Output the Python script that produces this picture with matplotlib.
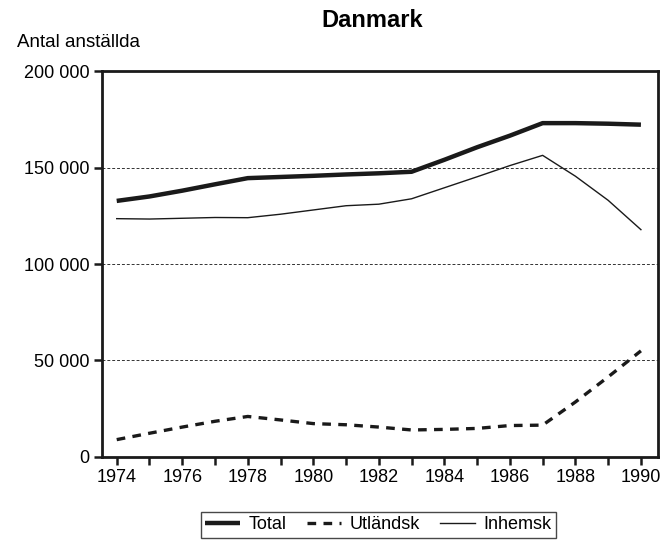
import matplotlib
matplotlib.use('Agg')
import matplotlib.pyplot as plt
from matplotlib.ticker import FuncFormatter, MultipleLocator

plt.rcParams['font.family'] = ['Liberation Sans', 'DejaVu Sans']

# Data
years = [1974, 1975, 1976, 1977, 1978, 1979, 1980, 1981, 1982, 1983,
         1984, 1985, 1986, 1987, 1988, 1989, 1990]
total = [132700, 135000, 138000, 141300, 144500, 145100, 145700, 146400, 147000, 147800,
         154000, 160500, 166500, 173000, 173000, 172700, 172200]
utlandsk = [9000, 12300, 15500, 18500, 21000, 19200, 17300, 16700, 15500, 14000,
            14300, 14800, 16300, 16500, 28500, 41500, 55000]
inhemsk = [123500, 123300, 123700, 124100, 124000, 125800, 128000, 130200, 131000, 133800,
           139500, 145200, 151000, 156300, 145500, 133000, 117800]

fig = plt.figure(figsize=(6.63, 5.43), dpi=100)
ax = fig.add_axes([0.1538, 0.1584, 0.8386, 0.7108])

ax.plot(years, total, color='#1a1a1a', lw=3.2, label='Total', solid_capstyle='butt')
ax.plot(years, utlandsk, color='#1a1a1a', lw=2.4, dashes=(2.6, 2.2), label='Utländsk')
ax.plot(years, inhemsk, color='#1a1a1a', lw=1.0, label='Inhemsk')

ax.set_xlim(1973.55, 1990.52)
ax.set_ylim(0, 200000)
ax.xaxis.set_major_locator(MultipleLocator(2))
ax.xaxis.set_minor_locator(MultipleLocator(1))
ax.yaxis.set_major_locator(MultipleLocator(50000))
ax.yaxis.set_major_formatter(FuncFormatter(lambda v, p: f'{int(v):,}'.replace(',', ' ')))

for y in [50000, 100000, 150000]:
    ax.axhline(y, color='#333333', lw=0.7, ls=(0, (3, 2)), zorder=0)

for s in ax.spines.values():
    s.set_linewidth(2.0)
    s.set_color('#1a1a1a')
ax.tick_params(axis='both', which='both', direction='out', width=1.8,
               color='#1a1a1a', labelsize=13, pad=3)
ax.tick_params(axis='both', which='major', length=6)
ax.tick_params(axis='x', which='minor', length=6)

fig.text(0.561, 0.963, 'Danmark', ha='center', va='center', fontsize=17, fontweight='bold')
fig.text(0.025, 0.922, 'Antal anställda', ha='left', va='center', fontsize=13.5)

leg = fig.legend(loc='upper center', bbox_to_anchor=(0.571, 0.074), ncol=3,
                 frameon=True, fancybox=False, fontsize=13, handlelength=1.9,
                 columnspacing=1.1, handletextpad=0.5, borderpad=0.25,
                 edgecolor='#1a1a1a')
leg.get_frame().set_linewidth(1.0)

fig.savefig('out.png', dpi=100)
